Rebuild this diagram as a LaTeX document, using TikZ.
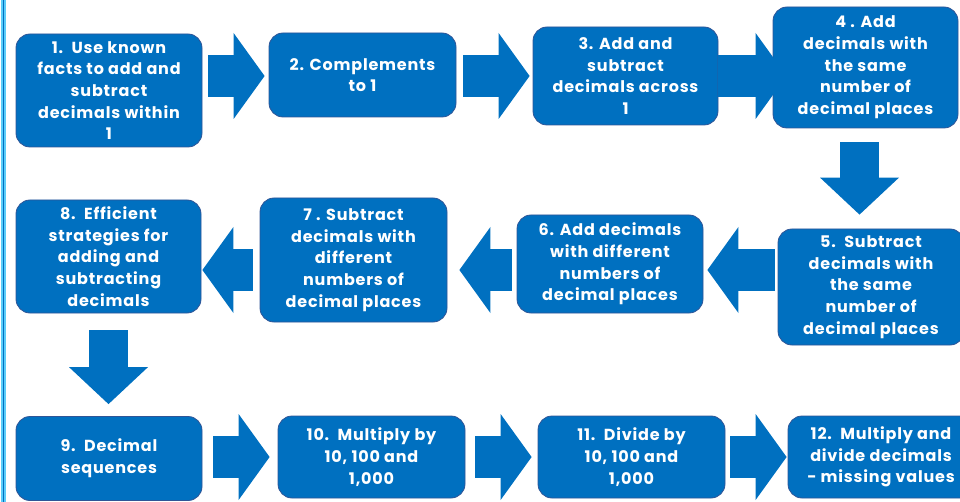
\documentclass[tikz,border=0pt]{standalone}
\usepackage{fontspec}
\setmainfont{Poppins}[LetterSpace=5]
\usetikzlibrary{arrows.meta}
\definecolor{boxblue}{RGB}{0,112,192}
\definecolor{boxedge}{RGB}{47,85,151}
\definecolor{stripe}{RGB}{90,205,250}

\begin{document}
\begin{tikzpicture}[x=1pt, y=-1pt,
				stage/.style={draw=boxedge, line width=0.8pt, fill=boxblue, rounded corners=14pt,
					text=white, align=center, inner sep=0pt,
					font=\bfseries\fontsize{16}{21.7}\selectfont},
				flow/.style={draw=boxblue, line width=42pt,
					-{Triangle[width=86pt, length=31pt, line width=0pt]}},
				flowdown/.style={flow, line width=39pt,
					-{Triangle[width=79pt, length=37pt, line width=0pt]}}]

				\useasboundingbox (0,0) rectangle (960,502);
				\fill[stripe] (0.5,0) rectangle (5.5,502);
				\draw[boxblue, line width=1pt] (3,0) -- (3,502);

				\coordinate (r1) at (0,76);
				\coordinate (r2) at (0,270);
				\coordinate (r3) at (0,457);

				\node[stage, minimum width=186pt, minimum height=113pt] (b1) at (109,90.5) {1.\ \ Use known\\facts to add and\\subtract\\decimals within\\1};
				\node[stage, minimum width=187pt, minimum height=84pt] (b2) at (362.5,75) {2. Complements\\to 1};
				\node[stage, minimum width=185pt, minimum height=98pt] (b3) at (625.5,76) {3. Add and\\subtract\\decimals across\\1};
				\node[stage, minimum width=185pt, minimum height=121pt] (b4) at (865.5,67.5) {4 . Add\\decimals with\\the same\\number of\\decimal places};
				\node[stage, minimum width=186pt, minimum height=116pt] (b5) at (871,287) {5.\ \ Subtract\\decimals with\\the same\\number of\\decimal places};
				\node[stage, minimum width=186pt, minimum height=98pt] (b6) at (610,264) {6. Add decimals\\with different\\numbers of\\decimal places};
				\node[stage, minimum width=187pt, minimum height=124pt] (b7) at (353.5,260) {7 . Subtract\\decimals with\\different\\numbers of\\decimal places};
				\node[stage, minimum width=185pt, minimum height=113pt] (b8) at (108.5,256.5) {8.\ \ Efficient\\strategies for\\adding and\\subtracting\\decimals};
				\node[stage, minimum width=186pt, minimum height=84pt] (b9) at (109,458.5) {9.\ \ Decimal\\sequences};
				\node[stage, minimum width=187pt, minimum height=82pt] (b10) at (371.5,457) {10.\ \ Multiply by\\10, 100 and\\1,000};
				\node[stage, minimum width=187pt, minimum height=82pt] (b11) at (631.5,457) {11.\ \ Divide by\\10, 100 and\\1,000};
				\node[stage, minimum width=186pt, minimum height=82pt] (b12) at (881,457) {12.\ \ Multiply and\\divide decimals\\- missing values};

				\draw[flow] ([xshift=6pt]b1.east |- r1) -- ([xshift=-4pt]b2.west |- r1);
				\draw[flow] ([xshift=7pt]b2.east |- r1) -- ([xshift=-3pt]b3.west |- r1);
				\draw[flow] (b3.east |- r1) -- ([xshift=14pt]b4.west |- r1);
				\draw[flowdown] ([xshift=-6pt, yshift=-14pt]b4.south) -- ([xshift=-6pt, yshift=14pt]b4.south |- b5.north);
				\draw[flow] ([xshift=-3pt]b5.west |- r2) -- ([xshift=4pt]b6.east |- r2);
				\draw[flow] ([xshift=-5pt]b6.west |- r2) -- ([xshift=12pt]b7.east |- r2);
				\draw[flow] ([xshift=-7pt]b7.west |- r2) -- ([xshift=1pt]b8.east |- r2);
				\draw[flowdown] ([yshift=-17pt]b8.south) -- ([yshift=12pt]b8.south |- b9.north);
				\draw[flow] ([xshift=11pt]b9.east |- r3) -- ([xshift=-8pt]b10.west |- r3);
				\draw[flow] ([xshift=10pt]b10.east |- r3) -- ([xshift=-6pt]b11.west |- r3);
				\draw[flow] ([xshift=5pt]b11.east |- r3) -- ([xshift=-1pt]b12.west |- r3);
			\end{tikzpicture}
\end{document}
